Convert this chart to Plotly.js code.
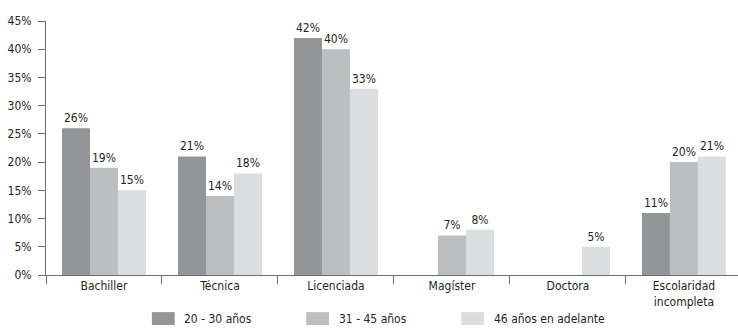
<!DOCTYPE html>
<html>
<head>
<meta charset="utf-8">
<script src="https://cdn.plot.ly/plotly-3.0.1.min.js"></script>
<style>
  html, body { margin: 0; padding: 0; background: #fff; }
  #chart { width: 738px; height: 330px; }
</style>
</head>
<body>
<div id="chart"></div>
<script>
// Nivel de escolaridad por grupo de edad (porcentaje)
const categories = ['Bachiller', 'Técnica', 'Licenciada', 'Magíster', 'Doctora', 'Escolaridad<br>incompleta'];
const seriesNames = ['20 - 30 años', '31 - 45 años', '46 años en adelante'];
const edad20a30 = [26, 21, 42, null, null, 11];
const edad31a45 = [19, 14, 40, 7, null, 20];
const edad46mas = [15, 18, 33, 8, 5, 21];
const yTickValues = [0, 5, 10, 15, 20, 25, 30, 35, 40, 45];
const yTickLabels = ['0%', '5%', '10%', '15%', '20%', '25%', '30%', '35%', '40%', '45%'];

const colors = ['#939598', '#bcbec0', '#dcddde'];
const textColor = '#231f20';
const font = "'Liberation Sans Narrow', 'DejaVu Sans Condensed', 'Open Sans', sans-serif";

const seriesValues = [edad20a30, edad31a45, edad46mas];

const traces = seriesValues.map((vals, i) => ({
  type: 'bar',
  name: seriesNames[i],
  x: categories,
  y: vals,
  marker: { color: colors[i], line: { width: 0 } },
  text: vals.map(v => (v === null ? '' : v + '%')),
  textposition: 'outside',
  cliponaxis: false,
  textfont: { family: font, size: 12, color: textColor },
  hoverinfo: 'skip'
}));

// Legend drawn as wide swatches with labels below the axis
const legendX = [0.153, 0.376, 0.6];      // swatch left edges (paper)
const swatchW = 0.033;
const swatchTop = -0.146, swatchBottom = -0.197;
const shapes = [], annotations = [];
seriesNames.forEach((name, i) => {
  shapes.push({
    type: 'rect', xref: 'paper', yref: 'paper',
    x0: legendX[i], x1: legendX[i] + swatchW, y0: swatchBottom, y1: swatchTop,
    fillcolor: colors[i], line: { width: 0 }
  });
  annotations.push({
    xref: 'paper', yref: 'paper', x: legendX[i] + swatchW + 0.011, y: (swatchTop + swatchBottom) / 2,
    xanchor: 'left', yanchor: 'middle', showarrow: false,
    text: name, font: { family: font, size: 12, color: textColor }
  });
});

const layout = {
  width: 738,
  height: 330,
  margin: { l: 46, r: 0, t: 21, b: 55 },
  paper_bgcolor: '#fff',
  plot_bgcolor: '#fff',
  showlegend: false,
  barmode: 'group',
  bargap: 0.276,
  bargroupgap: 0,
  font: { family: font, size: 12, color: textColor },
  xaxis: {
    type: 'category',
    range: [-0.5, 5.466],
    showline: true,
    linecolor: '#6d6e71',
    linewidth: 1,
    ticks: 'outside',
    tickson: 'boundaries',
    ticklen: 8,
    tickcolor: '#6d6e71',
    showgrid: false,
    zeroline: false,
    tickfont: { family: font, size: 12, color: textColor }
  },
  yaxis: {
    range: [0, 45],
    tickvals: yTickValues,
    ticktext: yTickLabels,
    showline: true,
    linecolor: '#6d6e71',
    linewidth: 1,
    ticks: 'outside',
    ticklen: 7,
    tickcolor: '#6d6e71',
    ticklabelstandoff: 4,
    showgrid: false,
    zeroline: false,
    tickfont: { family: font, size: 12, color: textColor }
  },
  shapes: shapes,
  annotations: annotations
};

Plotly.newPlot('chart', traces, layout, { displayModeBar: false, staticPlot: true });
</script>
</body>
</html>
